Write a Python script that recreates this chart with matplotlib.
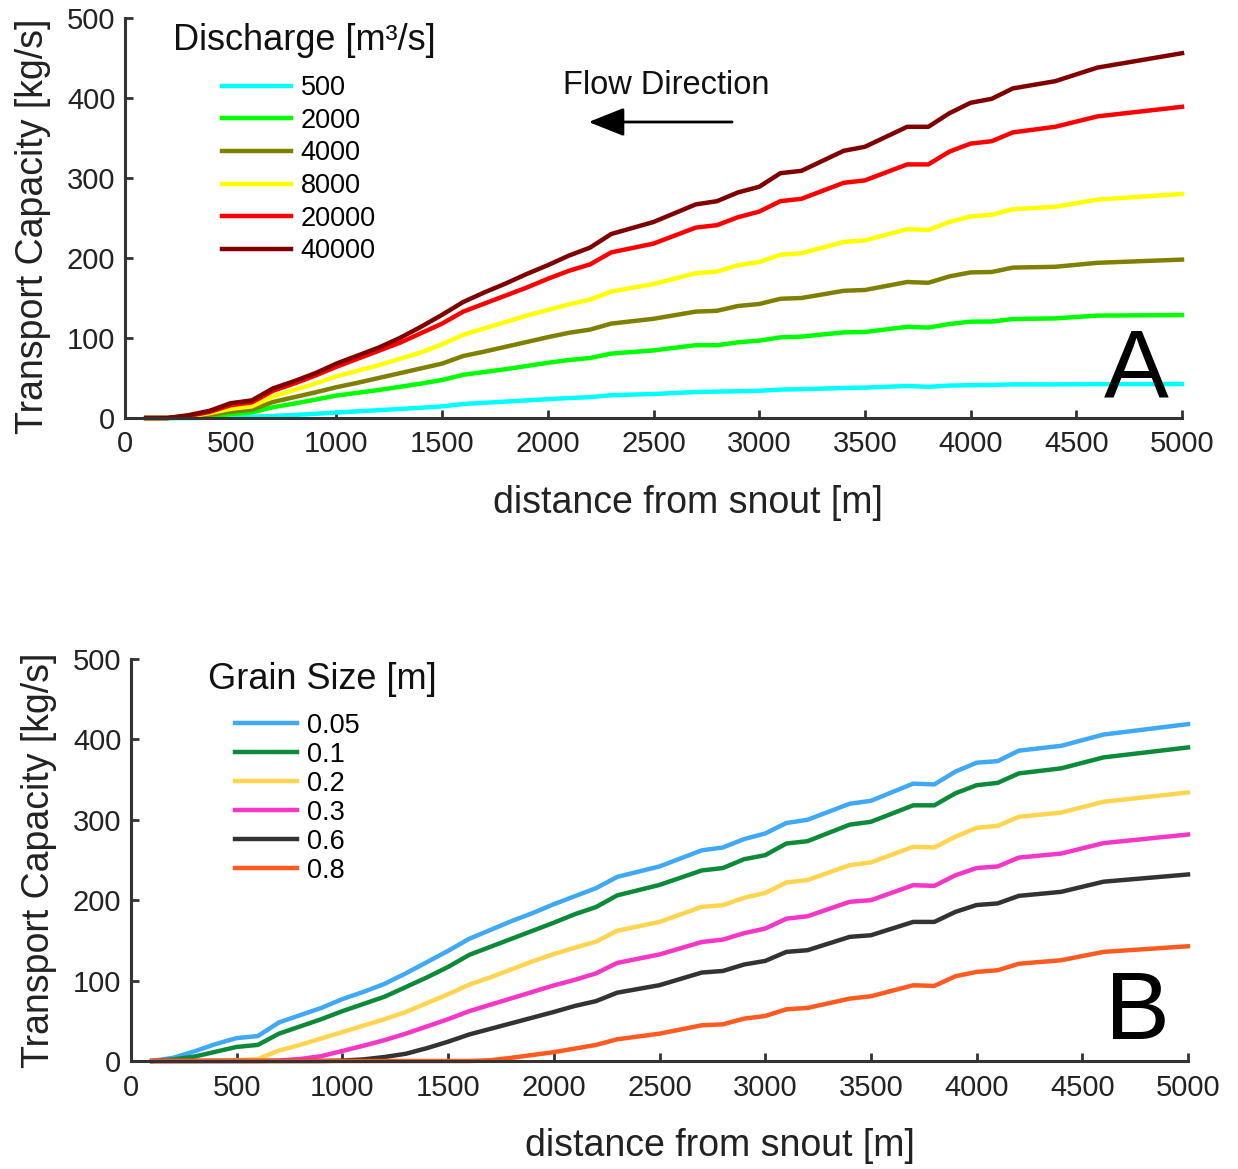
import matplotlib
matplotlib.use("Agg")
import matplotlib.pyplot as plt
from matplotlib.patches import FancyArrowPatch

plt.rcParams['font.family'] = ['Liberation Sans', 'DejaVu Sans']

# ---------------- data ----------------
distance = [100, 200, 300, 400, 500, 600, 700, 800, 900, 1000, 1100, 1200, 1300, 1400,
            1500, 1600, 1700, 1800, 1900, 2000, 2100, 2200, 2300, 2500, 2700, 2800, 2900,
            3000, 3100, 3200, 3400, 3500, 3700, 3800, 3900, 4000, 4100, 4200, 4400, 4600, 5000]

# Panel A: discharge [m3/s]
discharge_labels = ['500', '2000', '4000', '8000', '20000', '40000']
q500 = [0, 0, 0, 0.3, 1, 1.5, 2.5, 3.8, 5.2, 6.8, 8.3, 9.8, 11.3, 12.8, 14.5, 17.5, 19, 20.5,
        22, 23.5, 25, 26, 28.5, 30, 32.5, 33, 33.5, 34, 35.5, 36, 37.5, 38, 40, 39, 40.5, 41,
        41.3, 42, 42, 42.3, 42.5]
q2000 = [0, 0, 0.5, 2, 5, 7, 13.5, 18, 23, 28, 31.5, 35, 39, 43, 47.5, 54, 57.5, 61, 65, 69,
         72.5, 75, 80.5, 84.5, 91, 91, 94.6, 96.7, 100.8, 101.7, 107, 107.5, 114, 113, 117.5,
         120.4, 120.6, 123.7, 124.5, 128, 128.7]
q4000 = [0, 0, 1.5, 4, 8, 10.5, 20, 26, 32, 38.5, 44, 50, 56, 62, 68, 77.5, 83, 89, 95, 101,
         106.5, 110.5, 118, 124, 133, 134, 140, 142.5, 149, 150, 159, 160, 170, 169, 177, 182,
         182.5, 188, 189, 194, 198]
q8000 = [0, 0, 2, 6, 11.5, 14.5, 27, 35, 43, 52, 59, 66, 74, 82, 92, 104, 112, 120, 128, 135,
         142, 148, 158, 167.5, 181, 183, 191, 195, 204, 206, 220, 222, 236, 235, 245, 252, 254,
         261, 264, 273, 280]
q20000 = [0, 0, 2.5, 7.5, 16, 19.5, 34, 43, 53, 64, 74, 84, 94, 106, 118, 133, 143, 153, 163,
          174, 184, 192, 207, 218, 238, 241, 251, 258, 271, 274, 294, 297, 317, 317, 333, 343,
          346, 357, 364, 377, 389]
q40000 = [0, 0, 3.5, 9, 18.5, 22, 37, 46, 56, 68, 78, 88, 100, 114, 129, 145, 157, 168, 180,
          191, 203, 213, 230, 245, 267, 271, 282, 289, 306, 309, 334, 339, 364, 364, 381, 394,
          399, 412, 421, 438, 456]

# Panel B: grain size [m]
grain_labels = ['0.05', '0.1', '0.2', '0.3', '0.6', '0.8']
g005 = [0, 4, 12, 21, 28.5, 31, 48, 57, 66, 77, 86, 96, 109, 123, 137, 152, 163, 174, 184, 195,
        205, 215, 229, 242, 262, 265.6, 276, 283, 296, 300, 320, 323.6, 345, 344, 360, 371, 373,
        386, 392, 406, 419]
g01 = [0, 2, 5.5, 11.5, 17.5, 20, 34, 43, 52, 62, 71, 80, 92, 104, 117, 132, 142, 152, 162,
       172, 182.6, 191.5, 206, 219, 237, 240, 251, 256, 270.5, 273.4, 294, 297.5, 318, 318, 333,
       343, 346, 357.7, 364, 377.6, 390]
g02 = [0, 0, 0, 0.5, 1, 2.5, 13, 20, 28, 36, 44, 52, 61, 72, 83, 95, 104, 114, 124, 133, 141,
       148.5, 162, 173, 191.7, 193.8, 203, 209, 222, 225, 243.6, 247, 266.4, 265.6, 279, 290,
       292.5, 303.7, 309, 322.4, 334]
g03 = [0, 0, 0, 0, 0, 0, 0.5, 2.5, 6, 12.5, 19, 26, 34, 43, 52, 62, 70, 78, 86, 94, 101, 109,
       122, 132.5, 148, 151, 159, 164.7, 177, 180, 198, 200, 218.7, 217.8, 231, 240, 242, 253,
       258, 271, 281.7]
g06 = [0, 0, 0, 0, 0, 0, 0, 0, 0, 0.5, 2, 5, 9, 16, 24, 33, 40, 47, 54, 61, 68.5, 74.5, 85,
       94.3, 110, 112, 120, 124.5, 135.7, 137.8, 154.4, 156.4, 173, 173, 185.5, 194, 196, 205.4,
       210.4, 223, 232]
g08 = [0, 0, 0, 0, 0, 0, 0, 0, 0, 0, 0, 0, 0, 0, 0, 0, 1, 4, 7.5, 11, 15.5, 20, 27, 34, 44.4,
       45.6, 52.7, 56, 64.3, 66, 77.6, 80.5, 94.2, 93.4, 105.4, 110.8, 112.9, 121, 125.3, 135.7,
       142.7]

x_ticks = [0, 500, 1000, 1500, 2000, 2500, 3000, 3500, 4000, 4500, 5000]
y_ticks = [0, 100, 200, 300, 400, 500]

colors_a = ['#00FFFF', '#00FF00', '#808000', '#FFFF00', '#FF0000', '#800000']
colors_b = ['#40A9F5', '#0B8A3A', '#FFD54F', '#F536C6', '#333333', '#FF5A1F']

# ---------------- figure ----------------
W, H = 1238, 1169
fig = plt.figure(figsize=(W / 100, H / 100), dpi=100)

axA = fig.add_axes([125 / W, (H - 418) / H, 1057 / W, 400 / H])
axB = fig.add_axes([131 / W, (H - 1061) / H, 1057 / W, 402 / H])

spine_col = '#333333'


def style(ax, xlab_x, ylab_y):
    ax.set_xlim(0, 5000)
    ax.set_ylim(0, 500)
    ax.set_xticks(x_ticks)
    ax.set_yticks(y_ticks)
    for s in ['top', 'right']:
        ax.spines[s].set_visible(False)
    for s in ['left', 'bottom']:
        ax.spines[s].set_color(spine_col)
        ax.spines[s].set_linewidth(2.2)
    ax.tick_params(axis='both', direction='in', length=6, width=2, color=spine_col,
                   labelsize=21, labelcolor='#222222')
    ax.tick_params(axis='x', pad=9)
    ax.tick_params(axis='y', pad=7)
    ax.set_xlabel('distance from snout [m]', fontsize=27, color='#222222', labelpad=19,
                  x=xlab_x, ha='center')
    ax.set_ylabel('Transport Capacity [kg/s]', fontsize=27, color='#222222', labelpad=11,
                  y=ylab_y, ha='center')


# Panel A
series_a = [q500, q2000, q4000, q8000, q20000, q40000]
for ys, c, lab in zip(series_a, colors_a, discharge_labels):
    axA.plot(distance, ys, color=c, lw=3.2, label=lab, solid_joinstyle='round', clip_on=False)
style(axA, 0.533, 0.48)
legA = axA.legend(loc='upper left', bbox_to_anchor=(0.0918, 0.857), frameon=False,
                  fontsize=19.5, handlelength=2.55, handletextpad=0.35, labelspacing=0.245,
                  borderpad=0, borderaxespad=0)
for l in legA.get_lines():
    l.set_linewidth(3.2)
axA.text(0.0454, 0.945, 'Discharge [m³/s]', transform=axA.transAxes, fontsize=26,
         va='center', ha='left', color='#111111')
axA.text(2559, 416, 'Flow Direction', fontsize=23.5, ha='center', va='center', color='#111111')
arrow = FancyArrowPatch((2885, 370), (2180, 370), arrowstyle='-|>,head_length=1.0,head_width=0.4',
                        mutation_scale=22, color='black', lw=2)
axA.add_patch(arrow)
axA.text(4782, 58, 'A', fontsize=70, ha='center', va='center', color='black')

# Panel B
series_b = [g005, g01, g02, g03, g06, g08]
for ys, c, lab in zip(series_b, colors_b, grain_labels):
    axB.plot(distance, ys, color=c, lw=3.2, label=lab, solid_joinstyle='round', clip_on=False)
style(axB, 0.557, 0.5)
legB = axB.legend(loc='upper left', bbox_to_anchor=(0.0984, 0.866), frameon=False,
                  fontsize=19.5, handlelength=2.3, handletextpad=0.35, labelspacing=0.11,
                  borderpad=0, borderaxespad=0)
for l in legB.get_lines():
    l.set_linewidth(3.2)
axB.text(0.0728, 0.948, 'Grain Size [m]', transform=axB.transAxes, fontsize=26,
         va='center', ha='left', color='#111111')
axB.text(4759, 58, 'B', fontsize=70, ha='center', va='center', color='black')

fig.savefig('out.png', dpi=100)
